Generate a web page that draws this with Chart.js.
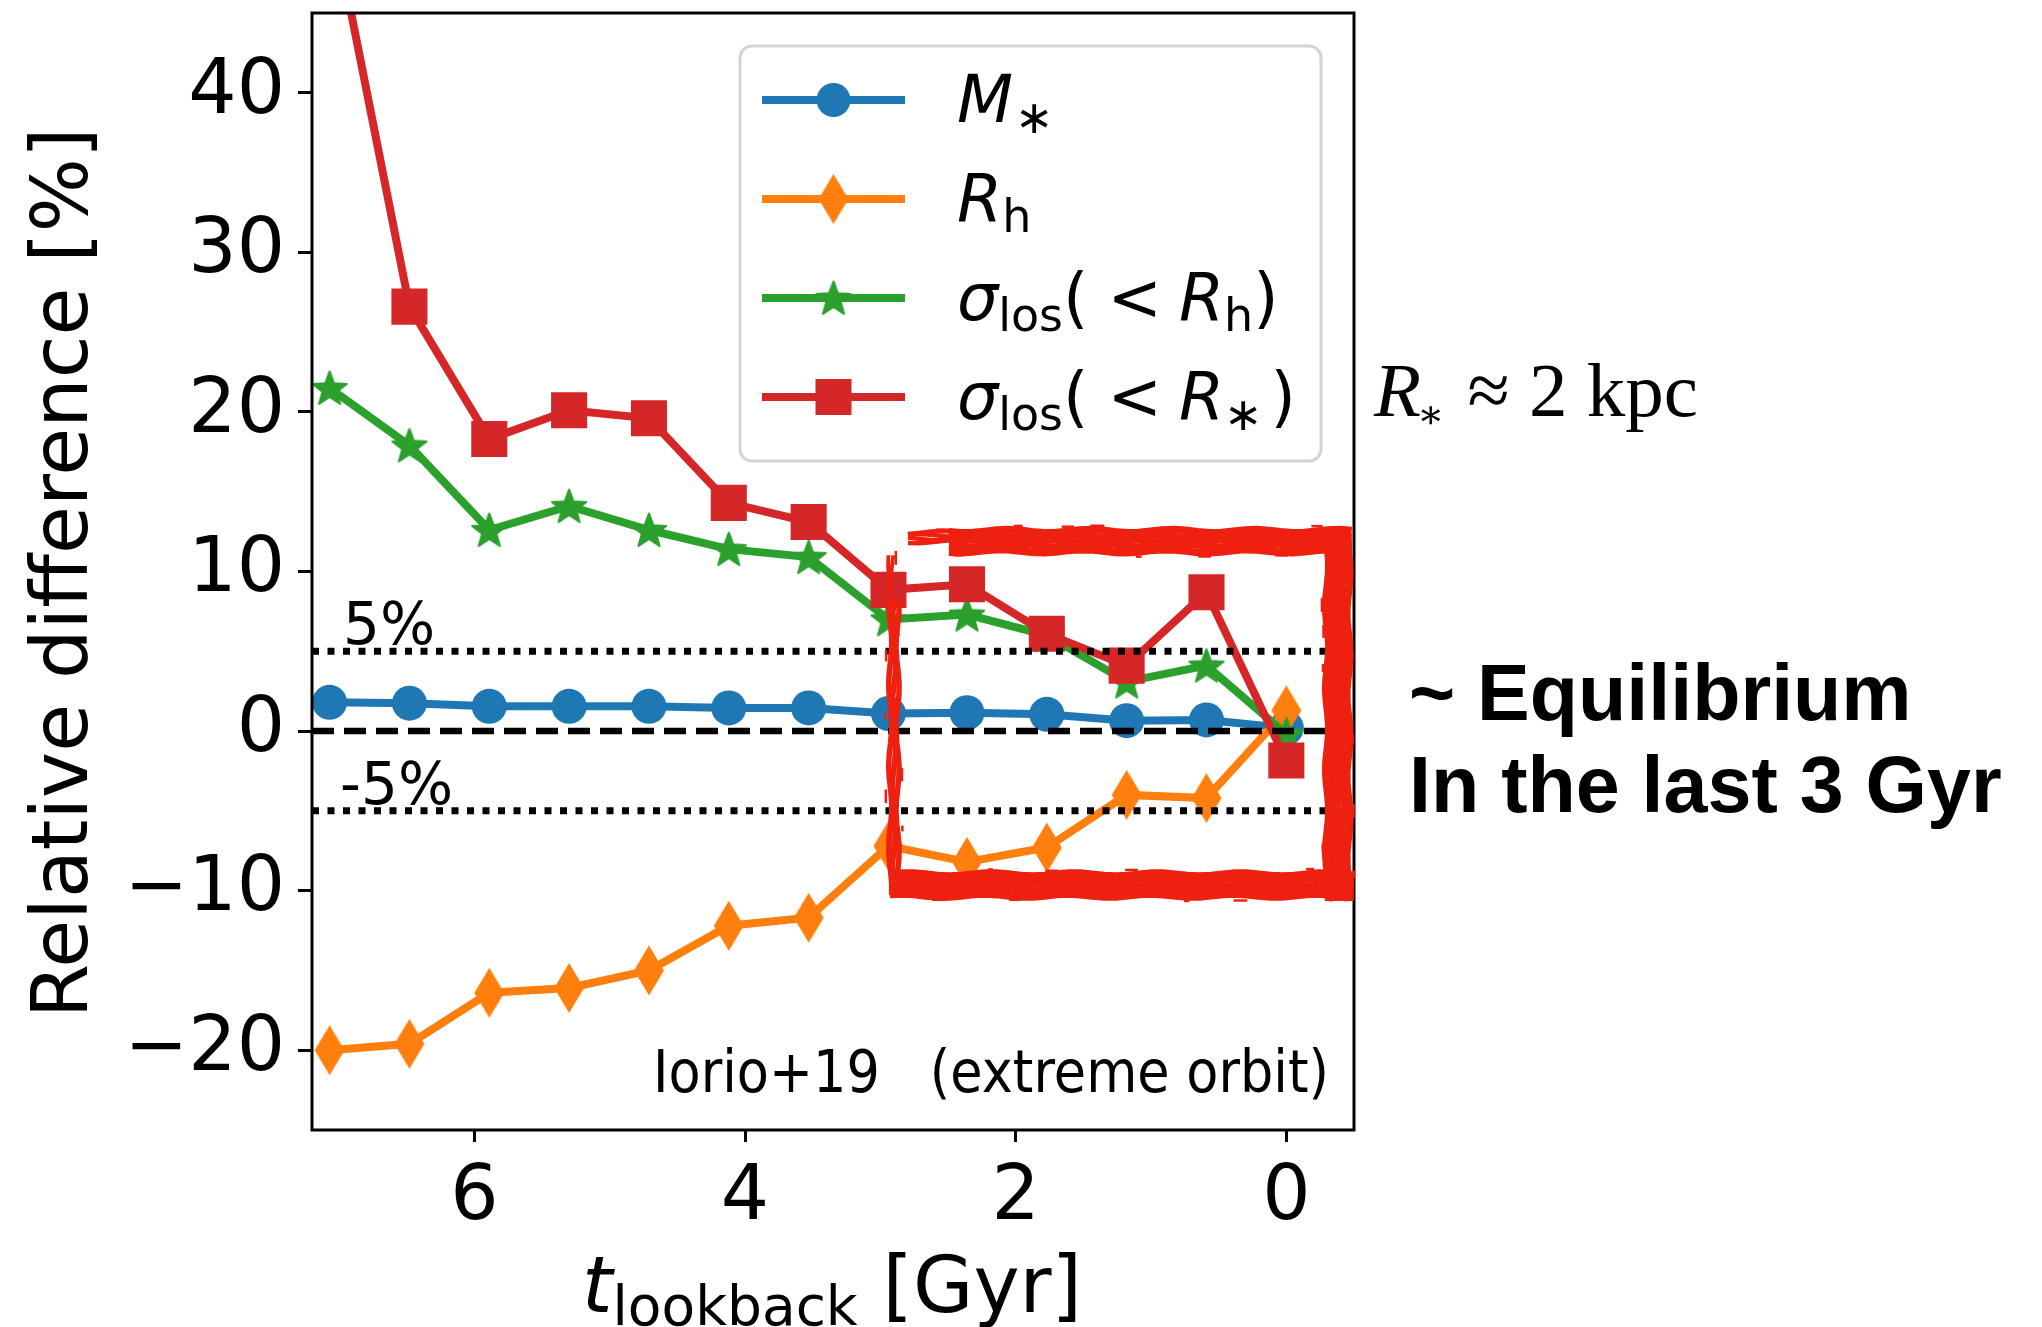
<!DOCTYPE html>
<html>
<head>
<meta charset="utf-8">
<script src="https://cdn.jsdelivr.net/npm/chart.js@4.4.0/dist/chart.umd.min.js"></script>
<style>
  html, body { margin: 0; padding: 0; background: #ffffff; }
</style>
</head>
<body>
<canvas id="chart" width="2042" height="1327"></canvas>
<script>
// lookback time of each snapshot [Gyr]
const tLookback = [7.07, 6.48, 5.89, 5.30, 4.71, 4.12, 3.53, 2.94, 2.36, 1.77, 1.18, 0.59, 0.0];

// relative differences [%]
const massStar   = [1.8, 1.75, 1.55, 1.55, 1.55, 1.45, 1.45, 1.1, 1.15, 1.05, 0.65, 0.7, 0.2];
const halfLightR = [-20.0, -19.6, -16.4, -16.1, -15.0, -12.2, -11.7, -7.2, -8.2, -7.3, -4.0, -4.2, 1.3];
const sigmaRh    = [21.5, 17.9, 12.6, 14.1, 12.6, 11.4, 10.9, 7.0, 7.3, 6.0, 3.1, 4.1, -0.2];
const sigmaRstar = [51.8, 26.6, 18.3, 20.1, 19.6, 14.3, 13.1, 8.85, 9.2, 6.1, 4.1, 8.7, -1.85];

const yTicks = [-20, -10, 0, 10, 20, 30, 40];
const xTicks = [6, 4, 2, 0];
const bandLevels = [5, -5];        // dotted lines
const bandLabels = ['5%', '-5%'];
const refSpan = [7.2, -0.32];      // x extent of the horizontal guides

const C = {
  blue: '#1f77b4',
  orange: '#ff7f0e',
  green: '#2ca02c',
  red: '#d62728',
  brush: '#ee2010'
};

// custom marker shapes (matplotlib 'd' and '*')
function makeDiamond(w, h, color) {
  const c = document.createElement('canvas');
  c.width = w + 2; c.height = h + 2;
  const g = c.getContext('2d');
  g.fillStyle = color;
  g.beginPath();
  g.moveTo(c.width / 2, 1);
  g.lineTo(c.width - 1, c.height / 2);
  g.lineTo(c.width / 2, c.height - 1);
  g.lineTo(1, c.height / 2);
  g.closePath();
  g.fill();
  return c;
}

function makeStar(r, color) {
  const c = document.createElement('canvas');
  c.width = c.height = Math.ceil(r * 2 + 4);
  const g = c.getContext('2d');
  const cx = c.width / 2, cy = c.height / 2 + r * 0.08;
  g.fillStyle = color;
  g.strokeStyle = color;
  g.lineWidth = 2;
  g.lineJoin = 'round';
  g.beginPath();
  for (let i = 0; i < 10; i++) {
    const rr = i % 2 === 0 ? r : r * 0.42;
    const a = -Math.PI / 2 + i * Math.PI / 5;
    const px = cx + rr * Math.cos(a), py = cy + rr * Math.sin(a);
    if (i === 0) g.moveTo(px, py); else g.lineTo(px, py);
  }
  g.closePath();
  g.fill();
  g.stroke();
  return c;
}

const diamondImg = makeDiamond(30, 50, C.orange);
const starImg = makeStar(18, C.green);

function series(values) {
  return tLookback.map((t, i) => ({ x: t, y: values[i] }));
}

// draw a run of text parts: [text, style]; style '' upright, 'i' italic, 's' subscript;
// a plain number is extra horizontal space
function drawRich(ctx, x, y, parts, size, family) {
  let cx = x;
  parts.forEach(p => {
    if (typeof p === 'number') { cx += p; return; }
    const [txt, st] = p;
    if (st === 's') {
      ctx.font = Math.round(size * 0.7) + 'px ' + family;
      ctx.fillText(txt, cx, y + size * 0.17);
    } else if (st === 'i') {
      ctx.font = 'italic ' + size + 'px ' + family;
      ctx.fillText(txt, cx, y);
    } else {
      ctx.font = size + 'px ' + family;
      ctx.fillText(txt, cx, y);
    }
    cx += ctx.measureText(txt).width;
  });
  return cx;
}

const legendItems = [
  { color: C.blue, marker: 'circle', parts: [['M', 'i'], 2, ['\u2217', 's']] },
  { color: C.orange, marker: diamondImg, parts: [['R', 'i'], ['h', 's']] },
  { color: C.green, marker: starImg, parts: [['\u03c3', 'i'], ['los', 's'], ['(', ''], 19, ['<', ''], 17, ['R', 'i'], ['h', 's'], [')', '']] },
  { color: C.red, marker: 'square', parts: [['\u03c3', 'i'], ['los', 's'], ['(', ''], 19, ['<', ''], 17, ['R', 'i'], ['\u2217', 's'], 8, [')', '']] }
];

// brush-like stroke between two points
function brush(ctx, x1, y1, x2, y2, width, strands, seed) {
  const len = Math.hypot(x2 - x1, y2 - y1);
  const ux = (x2 - x1) / len, uy = (y2 - y1) / len;
  const nx = -uy, ny = ux;
  ctx.lineCap = 'butt';
  for (let s = 0; s < strands; s++) {
    const off = -width / 2 + (s + 0.5) * width / strands;
    ctx.lineWidth = width / strands * 1.5;
    ctx.beginPath();
    const steps = Math.ceil(len / 12);
    for (let k = 0; k <= steps; k++) {
      const d = len * k / steps;
      const w = Math.sin(seed + s * 1.7 + k * 0.9) * 1.6;
      const px = x1 + ux * d + nx * (off + w);
      const py = y1 + uy * d + ny * (off + w);
      if (k === 0) ctx.moveTo(px, py); else ctx.lineTo(px, py);
    }
    ctx.stroke();
  }
  // a few ragged bristle marks hugging the edges
  ctx.lineWidth = 2.5;
  for (let k = 0; k < len / 23; k++) {
    if (Math.sin(seed * 5 + k * 2.3) < 0.2) continue;
    const d = k * 23 + 6 * Math.sin(seed * 3 + k);
    const side = Math.sin(seed + k * 1.9) > 0 ? 1 : -1;
    const o = side * (width / 2 + 1 + 2 * Math.abs(Math.sin(seed + k * 1.3)));
    const l = 5 + 9 * Math.abs(Math.sin(seed * 2 + k * 0.7));
    ctx.beginPath();
    ctx.moveTo(x1 + ux * d + nx * o, y1 + uy * d + ny * o);
    ctx.lineTo(x1 + ux * (d + l) + nx * o, y1 + uy * (d + l) + ny * o);
    ctx.stroke();
  }
}

const overlayPlugin = {
  id: 'overlay',
  afterDatasetsDraw(chart) {
    const { ctx, chartArea: a, scales } = chart;
    const xs = scales.x, ys = scales.y;
    ctx.save();
    // band labels
    ctx.fillStyle = '#000';
    ctx.font = '58px "DejaVu Sans"';
    ctx.textAlign = 'left';
    ctx.textBaseline = 'alphabetic';
    bandLevels.forEach((lv, i) => {
      ctx.fillText(bandLabels[i], xs.getPixelForValue(6.97) - (i ? 3 : 0), ys.getPixelForValue(lv) - 7);
    });
    // source note, slightly condensed
    ctx.save();
    ctx.translate(a.right - 25, a.bottom - 38);
    ctx.scale(0.89, 1);
    ctx.textAlign = 'right';
    ctx.font = '59px "DejaVu Sans"';
    ctx.fillText('Iorio+19   (extreme orbit)', 0, 0);
    ctx.restore();
    // frame
    ctx.strokeStyle = '#000';
    ctx.lineWidth = 3;
    ctx.strokeRect(a.left, a.top, a.right - a.left, a.bottom - a.top);
    ctx.restore();
  },
  afterDraw(chart) {
    const { ctx, scales } = chart;
    const xs = scales.x, ys = scales.y;
    ctx.save();

    // legend
    const lx = 740, ly = 46, lw = 581, lh = 415;
    ctx.beginPath();
    ctx.roundRect(lx, ly, lw, lh, 12);
    ctx.fillStyle = 'rgba(255,255,255,0.85)';
    ctx.fill();
    ctx.strokeStyle = '#d3d3d3';
    ctx.lineWidth = 3;
    ctx.stroke();
    ctx.textAlign = 'left';
    ctx.textBaseline = 'alphabetic';
    legendItems.forEach((it, i) => {
      const ry = 100 + i * 99;
      ctx.strokeStyle = it.color;
      ctx.lineWidth = 8;
      ctx.beginPath();
      ctx.moveTo(762, ry);
      ctx.lineTo(905, ry);
      ctx.stroke();
      ctx.fillStyle = it.color;
      if (it.marker === 'circle') {
        ctx.beginPath();
        ctx.arc(833.5, ry, 17, 0, Math.PI * 2);
        ctx.fill();
      } else if (it.marker === 'square') {
        ctx.fillRect(833.5 - 18, ry - 18, 36, 36);
      } else {
        ctx.drawImage(it.marker, 833.5 - it.marker.width / 2, ry - it.marker.height / 2);
      }
      ctx.fillStyle = '#000';
      drawRich(ctx, 957, ry + 22, it.parts, 65, '"DejaVu Sans"');
    });

    // hand-drawn highlight box
    const bl = xs.getPixelForValue(2.9), br = xs.getPixelForValue(-0.38);
    const bt = ys.getPixelForValue(11.9), bb = ys.getPixelForValue(-9.65);
    ctx.strokeStyle = C.brush;
    brush(ctx, bl + 55, bt, br + 14, bt, 25, 5, 0.3);
    brush(ctx, bl + 14, bt - 4, bl + 60, bt - 4, 12, 4, 2.1);
    brush(ctx, br, bt - 14, br, bb + 16, 26, 5, 1.2);
    brush(ctx, bl - 4, bb, br + 16, bb, 26, 5, 3.3);
    brush(ctx, bl, bt + 60, bl, bb + 10, 11, 3, 4.4);
    brush(ctx, bl - 3, bt + 14, bl - 3, bt + 60, 5, 2, 5.5);

    // axis titles
    ctx.fillStyle = '#000';
    ctx.save();
    ctx.translate(87, 573);
    ctx.rotate(-Math.PI / 2);
    ctx.textAlign = 'center';
    ctx.font = '78px "DejaVu Sans"';
    ctx.fillText('Relative difference [%]', 0, 0);
    ctx.restore();
    ctx.textAlign = 'left';
    drawRich(ctx, 582, 1312, [['t', 'i'], ['lookback', 's'], [' [Gyr]', '']], 78, '"DejaVu Sans"');

    // notes outside the axes
    let cx = 1374;
    ctx.font = 'italic 77px "Liberation Serif"';
    ctx.fillText('R', cx, 416);
    cx += ctx.measureText('R').width - 4;
    ctx.font = '40px "DejaVu Serif"';
    ctx.fillText('\u2217', cx, 428);
    cx += ctx.measureText('\u2217').width + 4;
    ctx.font = '77px "Liberation Serif"';
    ctx.fillText(' \u2248 2 kpc', cx, 416);

    ctx.font = 'bold 79px "Liberation Sans"';
    ctx.fillText('~ Equilibrium', 1409, 720);
    ctx.fillText('In the last 3 Gyr', 1409, 812);
    ctx.restore();
  }
};

const lineBase = { borderWidth: 8, pointBorderWidth: 0, tension: 0, fill: false };

const datasets = [
  ...bandLevels.map(lv => ({
    data: refSpan.map(x => ({ x: x, y: lv })),
    borderColor: '#000', borderWidth: 7, borderDash: [7, 8.5], pointRadius: 0, order: 0
  })),
  {
    data: refSpan.map(x => ({ x: x, y: 0 })),
    borderColor: '#000', borderWidth: 6.5, borderDash: [22, 10], pointRadius: 0, order: 0
  },
  {
    ...lineBase, label: 'sigma(<R*)', data: series(sigmaRstar),
    borderColor: C.red, backgroundColor: C.red, pointStyle: 'rect', pointRadius: 25.5, order: 1
  },
  {
    ...lineBase, label: 'sigma(<Rh)', data: series(sigmaRh),
    borderColor: C.green, backgroundColor: C.green, pointStyle: starImg, pointRadius: 15, order: 2
  },
  {
    ...lineBase, label: 'Rh', data: series(halfLightR),
    borderColor: C.orange, backgroundColor: C.orange, pointStyle: diamondImg, pointRadius: 15, order: 3
  },
  {
    ...lineBase, label: 'M*', data: series(massStar),
    borderColor: C.blue, backgroundColor: C.blue, pointStyle: 'circle', pointRadius: 17.5, order: 4
  }
];

new Chart(document.getElementById('chart'), {
  type: 'line',
  data: { datasets: datasets },
  options: {
    responsive: false,
    animation: false,
    devicePixelRatio: 1,
    layout: { autoPadding: false, padding: { top: 13, right: 688, left: 0, bottom: 0 } },
    plugins: { legend: { display: false }, tooltip: { enabled: false } },
    scales: {
      x: {
        type: 'linear',
        reverse: true,
        min: refSpan[1] - 0.18,
        max: refSpan[0],
        afterBuildTicks: s => { s.ticks = xTicks.map(v => ({ value: v })); },
        afterFit: s => { s.height = 197; s.paddingLeft = 0; s.paddingRight = 0; },
        border: { display: false },
        grid: { drawOnChartArea: false, drawTicks: true, tickLength: 12, tickWidth: 3, tickColor: '#000' },
        ticks: { color: '#000', padding: 12, font: { family: 'DejaVu Sans', size: 76 } }
      },
      y: {
        min: -25,
        max: 45,
        afterBuildTicks: s => { s.ticks = yTicks.map(v => ({ value: v })); },
        afterFit: s => { s.width = 312; s.paddingTop = 0; s.paddingBottom = 0; },
        border: { display: false },
        grid: { drawOnChartArea: false, drawTicks: true, tickLength: 14, tickWidth: 3, tickColor: '#000' },
        ticks: {
          color: '#000', padding: 13, font: { family: 'DejaVu Sans', size: 76 },
          callback: v => (v < 0 ? '\u2212' + Math.abs(v) : String(v))
        }
      }
    }
  },
  plugins: [overlayPlugin]
});
</script>
</body>
</html>
